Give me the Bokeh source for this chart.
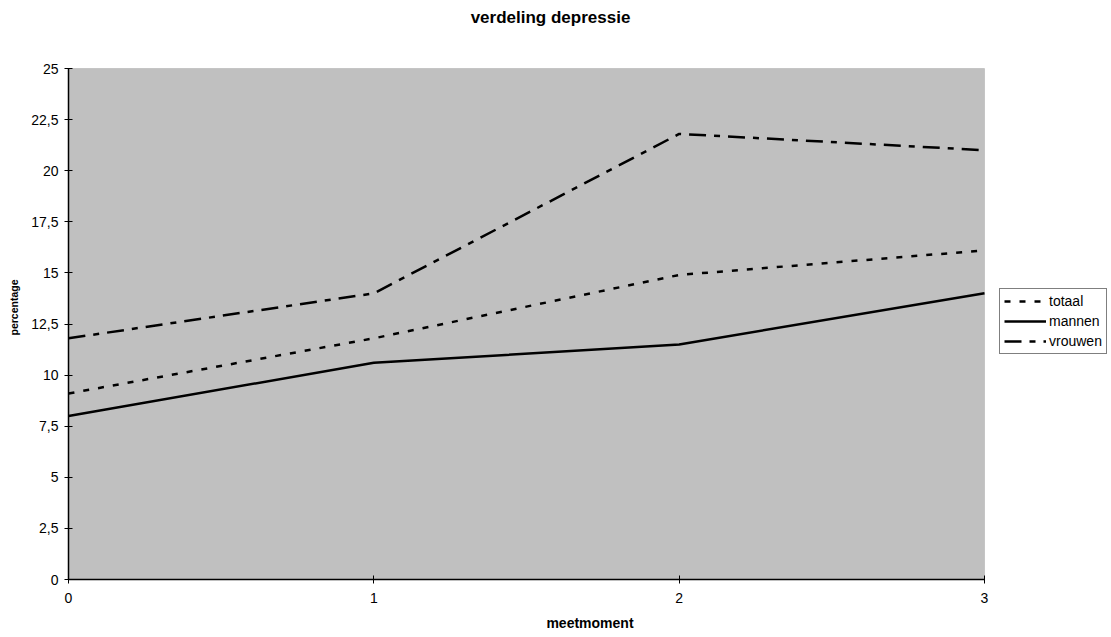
from bokeh.plotting import figure
from bokeh.models import Range1d, FixedTicker, Legend, LegendItem, BoxAnnotation, Label
from bokeh.embed import file_html
from bokeh.resources import INLINE

meetmoment = [0, 1, 2, 3]
totaal = [9.1, 11.8, 14.9, 16.1]
mannen = [8.0, 10.6, 11.5, 14.0]
vrouwen = [11.8, 14.0, 21.8, 21.0]
y_ticks = [0, 2.5, 5, 7.5, 10, 12.5, 15, 17.5, 20, 22.5, 25]
x_ticks = [0, 1, 2, 3]
x_min, x_max = 0, 3
y_min, y_max = 0, 25

FONT = "Liberation Sans"

# frame spans whole width/top so the outside legend and title are not clipped;
# the grey plot area and axes are limited to the data range via bounds
FW, FH = 1043, 579
PW, PH = 916, 511
p = figure(frame_width=FW, frame_height=FH, output_backend="svg", toolbar_location=None,
           x_range=Range1d(x_min, x_max * FW / PW), y_range=Range1d(y_min, y_max * FH / PH),
           min_border_left=68, min_border_top=0, min_border_bottom=58, min_border_right=0,
           background_fill_color="white", border_fill_color="white")
p.outline_line_color = None
p.xgrid.visible = False
p.ygrid.visible = False

p.add_layout(BoxAnnotation(left=x_min, right=x_max, bottom=y_min, top=y_max,
                           fill_color="#C0C0C0", fill_alpha=1,
                           line_color="#8a8a8a", line_width=1, level="underlay"))

for ax in (p.xaxis[0], p.yaxis[0]):
    ax.axis_line_color = "black"
    ax.axis_line_width = 1.5
    ax.major_tick_in = 4
    ax.major_tick_out = 4
    ax.major_tick_line_color = "black"
    ax.minor_tick_line_color = None
    ax.major_label_text_font = FONT
    ax.major_label_text_font_size = "14px"
    ax.major_label_text_color = "black"
    ax.axis_label_text_font = FONT
    ax.axis_label_text_font_size = "14px"
    ax.axis_label_text_font_style = "bold"
    ax.axis_label_text_color = "black"

p.xaxis[0].bounds = (x_min, x_max)
p.yaxis[0].bounds = (y_min, y_max)
p.xaxis[0].ticker = FixedTicker(ticks=x_ticks)
p.yaxis[0].ticker = FixedTicker(ticks=y_ticks)
p.yaxis[0].major_label_overrides = {t: (f"{t:g}".replace(".", ",")) for t in y_ticks}
p.xaxis[0].axis_label = "meetmoment"
p.yaxis[0].axis_label = "percentage" + "\u00a0" * 12
p.yaxis[0].axis_label_text_font_size = "10.5px"
p.xaxis[0].major_label_standoff = 9
p.yaxis[0].major_label_standoff = 6
p.xaxis[0].axis_label_standoff = 9
p.yaxis[0].axis_label_standoff = 8

p.add_layout(Label(x=482, y=FH - 17, x_units="screen", y_units="screen",
                   text="verdeling depressie", text_font=FONT, text_font_size="17px",
                   text_font_style="bold", text_color="black",
                   text_align="center", text_baseline="middle"))

r_t = p.line(meetmoment, totaal, line_color="black", line_width=2.5, line_dash="6 9")
r_m = p.line(meetmoment, mannen, line_color="black", line_width=2.5)
r_v = p.line(meetmoment, vrouwen, line_color="black", line_width=2.5, line_dash="17 8 6 8")

legend = Legend(items=[LegendItem(label="totaal", renderers=[r_t]),
                       LegendItem(label="mannen", renderers=[r_m]),
                       LegendItem(label="vrouwen", renderers=[r_v])],
                location=(931, 225), orientation="vertical")
legend.label_text_font = FONT
legend.label_text_font_size = "14px"
legend.label_text_color = "black"
legend.glyph_width = 42
legend.glyph_height = 16
legend.spacing = 4
legend.padding = 4
legend.margin = 0
legend.label_standoff = 3
legend.label_height = 16
legend.border_line_color = "black"
legend.border_line_width = 1
legend.background_fill_color = "white"
legend.background_fill_alpha = 1
p.add_layout(legend, "center")

open("out.html", "w").write(file_html(p, INLINE))
